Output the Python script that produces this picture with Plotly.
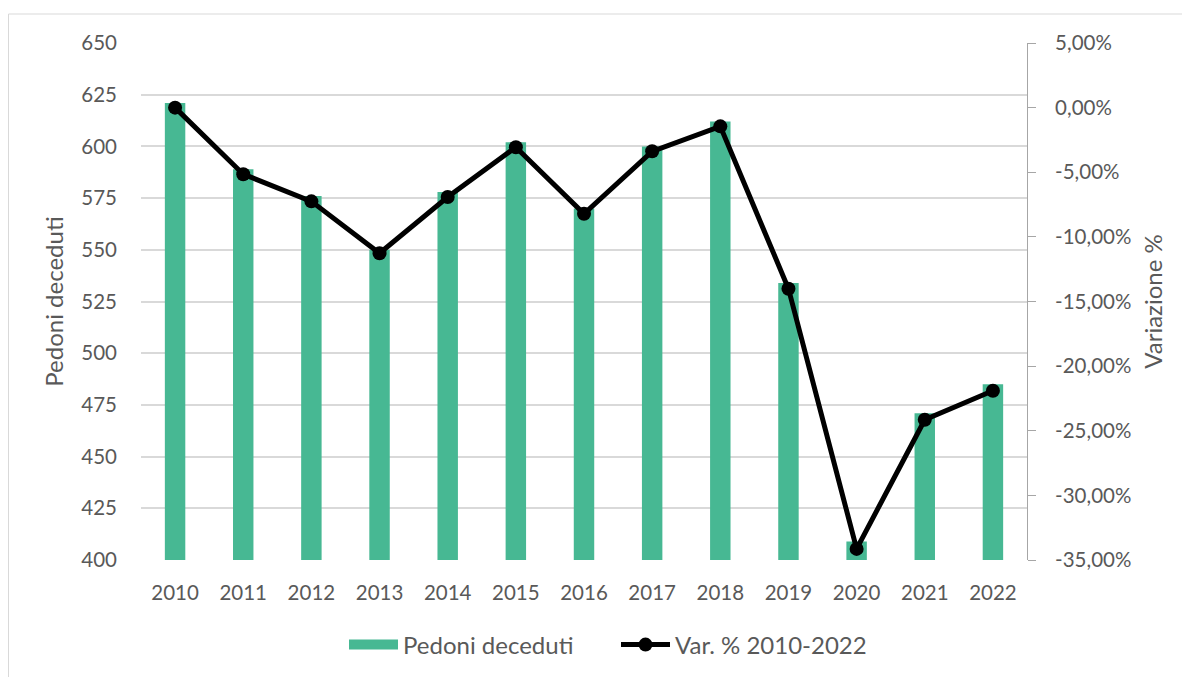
import plotly.graph_objects as go

# Data
anni = ['2010', '2011', '2012', '2013', '2014', '2015', '2016',
        '2017', '2018', '2019', '2020', '2021', '2022']
pedoni_deceduti = [621, 589, 576, 550, 578, 602, 570, 600, 612, 534, 409, 471, 485]
var_perc = [0.0, -0.0515, -0.0725, -0.1127, -0.0692, -0.0306, -0.0821,
            -0.0338, -0.0145, -0.1401, -0.3414, -0.2415, -0.2190]

y2_tickvals = [0.05, 0.0, -0.05, -0.10, -0.15, -0.20, -0.25, -0.30, -0.35]
y2_ticktext = ['5,00%', '0,00%', '-5,00%', '-10,00%', '-15,00%',
               '-20,00%', '-25,00%', '-30,00%', '-35,00%']

COLOR_BAR = '#47b893'
COLOR_TEXT = '#595959'
COLOR_GRID = '#d9d9d9'
FONT = 'Lato'
TICK_SIZE = 20.5
TITLE_SIZE = 24

W, H = 1190, 677
L, R, T, B = 133, 171, 35, 125
PW, PH = W - L - R, H - T - B


def px_x(x):
    return (x - L) / PW


def px_y(y):
    return (H - B - y) / PH


fig = go.Figure()

fig.add_trace(go.Bar(
    x=anni,
    y=pedoni_deceduti,
    name='Pedoni deceduti',
    marker=dict(color=COLOR_BAR, line=dict(width=0)),
    showlegend=False,
))

# legend entry for the bars drawn as a thick swatch
fig.add_trace(go.Scatter(
    x=[None], y=[None],
    name='Pedoni deceduti',
    mode='lines',
    line=dict(color=COLOR_BAR, width=15),
    hoverinfo='skip',
))

fig.add_trace(go.Scatter(
    x=anni,
    y=var_perc,
    name='Var. % 2010-2022',
    yaxis='y2',
    mode='lines+markers',
    line=dict(color='black', width=5),
    marker=dict(color='black', size=14),
))

# outer chart frame (only top/left edges fall inside the picture)
fig.add_shape(type='rect', xref='paper', yref='paper',
              x0=px_x(0.5), x1=px_x(W + 20), y0=px_y(H + 20), y1=px_y(6),
              line=dict(color=COLOR_GRID, width=1), fillcolor='rgba(0,0,0,0)',
              layer='below')

fig.update_layout(
    width=W, height=H,
    margin=dict(l=L, r=R, t=T, b=B, autoexpand=False),
    plot_bgcolor='white',
    paper_bgcolor='white',
    font=dict(family=FONT, size=TICK_SIZE, color=COLOR_TEXT),
    bargap=0.70,
    showlegend=True,
    legend=dict(
        orientation='h',
        x=px_x(336), xanchor='left',
        y=px_y(637), yanchor='middle',
        font=dict(size=TITLE_SIZE, color=COLOR_TEXT),
        itemwidth=49,
        entrywidth=208,
        entrywidthmode='pixels',
        traceorder='normal',
    ),
    xaxis=dict(
        range=[-0.5, 12.5],
        showgrid=False,
        showline=False,
        ticks='',
        ticklabelstandoff=18,
        tickfont=dict(size=TICK_SIZE, color=COLOR_TEXT),
    ),
    yaxis=dict(
        range=[400, 650],
        dtick=25,
        gridcolor=COLOR_GRID,
        gridwidth=1.5,
        zeroline=False,
        showline=False,
        ticks='',
        ticklabelstandoff=23,
        tickfont=dict(size=TICK_SIZE, color=COLOR_TEXT),
        title=dict(text='Pedoni deceduti', font=dict(size=TITLE_SIZE, color=COLOR_TEXT), standoff=10),
    ),
    yaxis2=dict(
        overlaying='y',
        side='right',
        range=[-0.35, 0.05],
        tickvals=y2_tickvals,
        ticktext=y2_ticktext,
        showgrid=False,
        zeroline=False,
        showline=True,
        linecolor='#a6a6a6',
        linewidth=1,
        ticks='outside',
        ticklen=8,
        tickcolor='#a6a6a6',
        ticklabelstandoff=15,
        tickfont=dict(size=TICK_SIZE, color=COLOR_TEXT),
        title=dict(text='Variazione %', font=dict(size=TITLE_SIZE, color=COLOR_TEXT), standoff=14),
    ),
)

fig.write_html('out.html')
